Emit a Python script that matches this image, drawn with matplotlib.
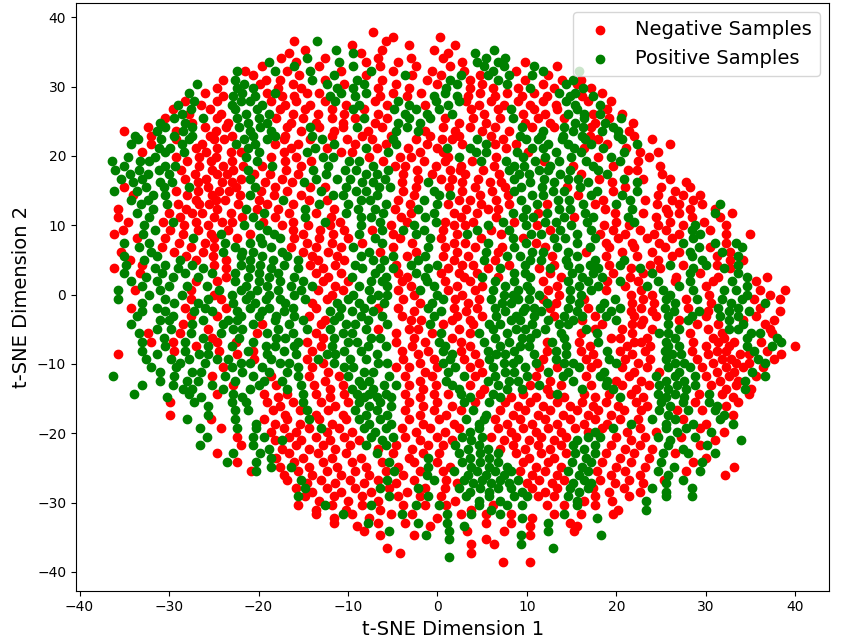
import matplotlib
matplotlib.use("Agg")
import matplotlib.pyplot as plt

# t-SNE coordinates, in thin horizontal rows:
# row_y[i] is the y value of row i, neg_x_rows[i] / pos_x_rows[i] the x values in that row.
row_y = [37.9, 37.2, 36.6, 36.0, 35.3, 34.8, 34.1, 33.5, 32.9, 32.2, 31.7, 31.0, 30.4, 29.8,
         29.1, 28.6, 27.9, 27.3, 26.7, 26.0, 25.5, 24.8, 24.2, 23.6, 22.9, 22.4, 21.7, 21.1,
         20.5, 19.8, 19.3, 18.6, 18.0, 17.4, 16.7, 16.2, 15.5, 14.9, 14.3, 13.6, 13.1, 12.4,
         11.8, 11.2, 10.5, 10.0, 9.3, 8.7, 8.1, 7.4, 6.9, 6.2, 5.6, 5.0, 4.3, 3.8, 3.1, 2.5,
         1.9, 1.2, 0.7, 0.0, -0.6, -1.2, -1.9, -2.4, -3.1, -3.7, -4.3, -5.0, -5.5, -6.2, -6.8,
         -7.4, -8.1, -8.6, -9.3, -9.9, -10.5, -11.2, -11.7, -12.4, -13.0, -13.6, -14.3, -14.8,
         -15.5, -16.1, -16.7, -17.4, -17.9, -18.6, -19.2, -19.8, -20.5, -21.0, -21.7, -22.3,
         -22.9, -23.6, -24.1, -24.8, -25.4, -26.0, -26.7, -27.2, -27.9, -28.5, -29.1, -29.8,
         -30.3, -31.0, -31.6, -32.2, -32.9, -33.4, -34.1, -34.7, -35.3, -36.0, -36.5, -37.2,
         -37.8, -38.6]

neg_x_rows = [
    [-7.2],
    [0.3, -5.0],
    [-5.8, -16.0],
    [-9.5, -3.2, 2.0],
    [-14.8, -6.2, -0.4],
    [-8.6, 1.2, -16.6],
    [-17.5, -12.6, -6.6, -3.0, 0.6],
    [-15.8, -8.0, -4.4, 2.8, 9.8],
    [-19.6, -13.2, -6.4, -2.4, 1.4, 13.4],
    [-21.5, -16.8, -10.8, -5.0, -0.6, 3.0, 8.8],
    [-20.6, -15.5, -8.0, -2.8, 0.4, 4.8, 12.4],
    [-24.0, -19.2, -17.6, -12.6, -6.2, -1.2, 3.6, 9.8, 13.9, 16.0],
    [-19.8, -16.2, -10.4, -4.6, 0.0, 5.0, 11.8, 15.6],
    [-24.6, -17.8, -15.2, -6.6, -3.2, 3.6, 6.2, 9.0, 13.0, 17.2],
    [-26.0, -19.0, -14.6, -13.2, -5.0, -1.8, 4.8, 7.8, 10.8, 18.4],
    [-24.0, -17.4, -16.0, -6.4, -3.4, 3.4, 6.4, 9.4, 12.2, 16.2],
    [-28.2, -24.6, -18.6, -15.8, -12.6, -7.0, 3.2, 6.0, 9.0, 11.8, 16.8, 19.4],
    [-26.4, -17.0, -14.2, -10.2, -5.6, -1.4, 4.6, 7.4, 10.4, 13.2],
    [-29.6, -25.4, -17.6, -14.8, -11.8, -8.2, 3.8, 6.8, 10.8, 13.4, 19.0],
    [-27.8, -24.2, -16.2, -13.4, -10.4, -6.6, 5.2, 9.6, 12.0, 17.4, 20.6],
    [-30.4, -24.6, -18.0, -15.0, -11.8, -9.2, -5.6, 0.8, 4.0, 7.0, 11.2, 14.2, 19.2],
    [-27.4, -23.4, -16.4, -13.6, -10.6, -7.0, 2.4, 5.4, 9.8, 12.6, 17.6, 21.9],
    [-32.4, -26.0, -23.6, -16.8, -13.2, -10.6, -6.2, 0.6, 3.6, 6.4, 10.6, 13.0, 17.2],
    [-35.0, -29.2, -24.8, -15.2, -11.6, -7.8, -1.4, 2.0, 5.0, 8.0, 21.4],
    [-32.0, -25.4, -23.0, -17.0, -11.8, -8.4, -5.2, -0.8, 2.4, 6.0, 17.0, 22.0],
    # 22.4
    [-29.2, -25.0, -23.9, -17.2, -14.3, -10.1, -7.3, -2.4, 0.5, 1.6, 7.3, 18.0, 24.0],
    [-32.0, -26.3, -18.2, -15.6, -9.2, -5.8, -1.2, 2.7, 6.4, 8.8, 19.0, 26.0],
    [-27.0, -24.6, -16.4, -12.4, -6.8, -3.3, -0.1, 7.7, 16.4, 21.1],
    [-33.0, -25.9, -23.1, -22.0, -17.1, -10.8, -9.6, -2.0, 0.6, 10.1, 22.6, 24.7],
    [-29.2, -26.6, -24.7, -18.6, -15.8, -7.6, -4.2, -3.0, 1.2, 6.6, 17.9, 23.6],
    [-28.0, -25.3, -23.0, -17.0, -14.1, -6.1, -1.5, 0.8, 3.9, 11.9, 22.4],
    [-26.6, -24.0, -21.7, -19.6, -15.2, -4.7, -3.6, -0.2, 2.6, 6.3, 15.1, 19.6, 24.9],
    [-28.7, -25.2, -22.9, -16.9, -2.3, 1.4, 2.5, 5.1, 21.3, 22.3],
    [-27.1, -24.6, -23.5, -20.5, -18.7, -15.6, -3.8, -0.6, 3.1, 6.9, 16.0, 25.1],
    [-28.2, -25.9, -22.0, -17.4, -2.2, 0.4, 1.6, 4.5, 18.1, 23.0, 26.0],
    [-26.8, -24.1, -23.0, -19.3, -16.3, -4.0, 2.8, 5.9, 7.1, 19.5, 27.8],
    [-35.0, -25.6, -22.5, -18.2, -14.2, -12.6, -2.4, 1.3, 4.2, 7.5, 14.5, 21.0, 25.0, 28.2],
    [-29.2, -26.8, -24.4, -23.3, -19.7, -16.8, -3.8, 2.8, 6.1, 19.6, 26.6],
    [-34.0, -28.0, -25.2, -22.1, -18.3, -15.2, -2.6, 4.8, 7.9, 15.7, 24.6, 27.4, 29.4],
    [-27.0, -24.8, -23.7, -20.0, -14.4, -12.4, -4.4, 2.4, 3.6, 6.6, 18.5, 23.2, 26.2, 28.6],
    [-29.0, -26.6, -25.5, -22.3, -19.1, -16.2, -3.1, 1.2, 4.9, 8.0, 12.2, 17.6, 24.5, 27.0, 29.6],
    [-35.7, -28.1, -24.6, -20.2, -17.8, -11.6, -4.7, 3.2, 5.6, 6.8, 18.7, 25.6, 28.2, 31.0],
    [-30.0, -27.4, -26.3, -23.1, -16.6, -13.6, -3.0, 1.8, 4.4, 11.2, 19.8, 23.0, 25.8, 27.0, 32.9],
    [-35.7, -28.8, -25.0, -21.8, -18.2, -11.9, -4.1, 2.6, 6.5, 15.3, 24.4, 28.4, 31.6],
    [-34.6, -30.7, -27.0, -24.1, -23.0, -19.5, -16.1, -10.9, -3.4, 0.9, 4.0, 8.6, 20.0, 26.0, 29.8],
    [-28.3, -25.6, -17.4, -14.5, -12.0, -5.2, 1.9, 3.1, 11.1, 18.6, 21.4, 24.6, 27.4, 32.2],
    [-35.2, -29.9, -26.8, -23.4, -16.2, -13.1, -10.5, -7.3, 0.6, 6.0, 12.6, 19.6, 22.6, 25.6, 30.5],
    [-36.1, -28.4, -25.3, -21.0, -15.0, -11.7, -5.0, 2.2, 7.1, 18.2, 21.0, 24.2, 27.0, 32.3, 34.9],
    [-33.6, -30.4, -25.0, -22.4, -16.0, -13.2, -10.0, -4.2, 0.4, 4.9, 9.6, 20.2, 23.4, 26.2],
    [-28.9, -26.0, -14.6, -11.8, -8.4, -2.8, 1.8, 3.1, 11.0, 18.8, 21.8, 24.8, 32.3],
    [-30.8, -27.6, -25.0, -16.4, -13.6, -10.8, -5.0, 0.8, 4.2, 7.2, 12.0, 19.2, 22.0, 25.4, 30.5],
    [-35.4, -29.4, -26.2, -15.0, -12.2, -6.4, -2.4, 2.2, 6.8, 16.6, 20.6, 24.0, 27.0, 32.7],
    [-28.1, -25.1, -14.0, -11.2, -3.4, 0.6, 3.4, 12.8, 18.8, 22.3, 26.2, 31.2],
    [-34.4, -27.0, -23.6, -13.4, -10.4, 1.8, 6.4, 24.6, 32.7, 34.2],
    [-33.0, -25.0, -14.2, -11.4, -4.6, 2.8, 4.0, 8.0, 13.0, 19.2, 23.8, 27.4, 31.2],
    [-36.1, -23.6, -12.8, 1.2, 5.6, 11.4, 21.6, 24.9, 32.7],
    [-33.2, -13.6, -10.8, -4.4, 0.4, 2.4, 4.4, 12.6, 19.6, 23.0, 29.4],
    [-23.6, -12.2, -3.4, 3.0, 6.8, 13.8, 21.5, 26.7, 31.4, 36.8],
    [-27.0, -24.6, -12.8, -10.0, -4.0, 0.8, 3.6, 11.8, 19.0, 22.4, 26.6, 30.8, 35.6],
    [-11.4, -3.0, 2.2, 5.0, 13.4, 21.0, 30.0],
    [-33.8, -27.6, -13.4, -10.6, -4.4, 1.2, 4.2, 12.4, 18.8, 22.8, 36.0, 38.8],
    [-25.0, -11.8, -2.6, 2.8, 13.6, 21.6, 24.0, 30.4, 37.2],
    [-27.6, -24.2, -12.4, -3.8, 2.0, 4.6, 11.8, 16.4, 23.0, 27.8, 35.4, 38.3],
    [-14.0, -2.0, 3.4, 13.2, 21.8, 24.2, 30.6],
    [-34.2, -28.2, -23.6, -13.6, -6.6, -4.4, 1.8, 4.4, 12.6, 16.8, 22.8, 28.0, 36.0],
    [-2.6, 3.2, 21.6, 24.0, 30.2, 38.3],
    [-27.6, -24.6, -14.4, -4.0, 2.2, 5.0, 13.0, 17.6, 22.0, 24.4, 30.0, 35.6],
    [-12.6, -3.0, -1.8, 1.6, 3.6, 16.2, 23.0, 27.0, 34.2, 37.6],
    [-28.4, -19.6, -13.0, 0.6, 4.0, 18.4, 21.8, 22.8, 29.0, 31.4, 36.6],
    [-25.6, -6.6, -3.2, -2.2, 2.4, 17.6, 20.6, 24.0, 30.2, 37.2],
    [-32.4, -28.8, -20.2, -13.6, -4.6, -0.6, 3.6, 16.0, 21.8, 28.2, 31.8, 37.4],
    [-25.2, -12.8, -2.6, 1.6, 19.4, 20.4, 23.4, 30.8, 32.0],
    [-32.0, -29.6, -24.6, -22.5, -14.6, -4.6, -1.4, 2.6, 12.2, 15.8, 22.0, 22.8, 28.6, 31.4, 33.2, 36.2],
    [-27.0, -13.0, -2.8, 3.6, 17.0, 21.2, 23.8, 30.0, 32.6, 40.0],
    [-29.4, -24.4, -20.6, -14.0, -4.0, -1.0, 2.6, 12.2, 16.0, 20.4, 23.2, 28.4, 31.2, 32.2, 36.8],
    [-35.7, -22.4, -2.2, 4.2, 17.4, 21.8, 30.2, 33.8, 34.8, 38.4],
    [-20.5, -14.6, -3.8, -0.4, 3.0, 11.8, 16.6, 21.0, 23.8, 29.0, 31.8, 32.8, 37.6],
    [-12.8, -2.0, 4.6, 17.8, 22.4, 30.8, 33.4, 34.8],
    [-24.0, -14.0, -4.6, -3.2, 0.0, 3.6, 11.4, 13.4, 17.2, 20.6, 23.4, 29.6, 32.2, 34.2, 36.4],
    [-12.2, -1.4, 5.0, 22.0, 24.8, 31.2, 33.2],
    [-25.2, -18.6, -14.4, -11.0, -3.6, -0.6, 4.2, 11.0, 16.6, 21.4, 30.0, 32.6, 35.6],
    [-12.6, -2.0, 12.6, 20.0, 22.8, 31.6, 33.6],
    [-22.8, -18.0, -13.8, -10.6, -3.2, -0.2, 3.6, 10.4, 13.8, 17.2, 20.6, 23.6, 30.6, 33.4],
    [-12.0, -1.6, 5.2, 12.2, 22.2, 32.2, 35.0],
    [-24.6, -19.4, -16.8, -13.6, -10.4, -3.6, -0.4, 1.2, 4.8, 9.6, 12.6, 16.4, 19.2, 21.6, 29.2, 31.8, 34.8],
    [-17.8, -12.0, -2.0, 8.2, 11.0, 14.2, 17.6, 23.0, 33.0],
    # -15.5
    [-29.9, -19.0, -16.2, -13.0, -10.0, -3.2, 0.0, 4.2, 7.6, 10.4, 13.4, 16.2, 18.8, 22.2, 28.8, 33.6],
    [-17.6, -11.4, -1.6, 1.6, 9.0, 11.8, 14.8, 17.4, 20.2, 23.4, 32.2],
    [-18.4, -15.4, -12.2, -3.6, -0.4, 2.6, 7.0, 9.8, 12.6, 15.6, 18.0, 20.8, 22.8, 26.8, 29.6],
    [-29.9, -17.0, -13.6, -10.6, -2.0, 1.0, 8.4, 11.2, 14.0, 16.8, 19.4, 33.0],
    [-25.3, -19.4, -16.8, -13.2, -10.2, -3.2, 0.2, 6.4, 9.2, 12.0, 14.8, 17.6, 20.4, 22.4, 27.4],
    [-18.2, -15.4, -11.8, -1.6, 1.8, 7.8, 10.6, 13.4, 16.4, 19.0, 30.0],
    [-24.2, -17.2, -14.4, -11.0, -4.0, -0.8, 2.4, 6.8, 9.6, 12.4, 15.4, 18.4, 22.6, 29.4],
    [-18.6, -15.8, -12.4, -9.6, -2.4, 0.8, 8.2, 11.0, 13.8, 16.8, 21.2, 24.4, 32.0],
    [-22.4, -16.6, -13.6, -10.4, -3.6, 0.0, 6.0, 8.8, 11.6, 14.4, 20.0, 23.2, 27.2],
    [-18.2, -15.2, -12.0, -8.8, -2.0, 1.6, 7.4, 10.2, 13.0, 21.6, 31.0],
    [-22.0, -15.8, -12.8, -9.8, -4.6, -1.0, 0.6, 8.4, 11.2, 13.8, 19.4, 22.6, 29.4],
    [-17.4, -14.4, -11.4, -6.6, -2.8, 7.0, 9.8, 12.6, 21.0, 24.0],
    [-24.6, -16.6, -13.4, -10.2, -5.0, -1.6, 0.2, 8.8, 11.6, 14.4, 18.8, 22.0, 26.6],
    [-18.0, -15.0, -11.8, -8.6, -3.2, 10.2, 13.0, 20.4, 23.6, 30.0],
    [-22.4, -16.0, -12.8, -9.6, -6.2, -2.6, 0.0, 9.6, 12.4, 18.4, 21.6, 28.6],
    [-17.6, -14.4, -11.2, -8.0, -4.4, 1.4, 11.0, 13.8, 20.0, 23.2, 33.1],
    [-20.8, -15.6, -12.4, -9.2, -5.8, -2.0, 0.6, 9.2, 12.0, 17.8, 21.0, 27.8],
    [-17.2, -14.0, -10.8, -7.6, -3.8, 10.6, 13.4, 19.4, 22.6, 32.1],
    [-16.8, -13.0, -9.8, -6.6, -2.6, 1.0, 11.4, 14.2, 18.2, 21.4, 25.3],
    [-14.6, -11.4, -8.2, -4.6, 2.2, 10.0, 12.8, 19.8, 23.0],
    [-15.8, -12.4, -9.2, -5.4, -1.4, 0.8, 10.6, 13.4, 17.4, 20.8],
    [-14.0, -10.8, -7.4, -3.4, 12.0, 19.2, 22.6],
    [-14.8, -11.6, -8.4, -4.4, -2.0, 0.4, 11.2, 13.0, 17.6, 21.4],
    [-13.2, -10.0, -6.6, 2.0, 16.4, 19.5],
    [-15.6, -11.8, -8.4, -3.8, -1.4, 1.0, 6.2, 12.2, 14.2, 17.6],
    [-13.6, -10.2, -6.4, 3.8, 20.2],
    [-13.6, -9.6, -5.2, -2.8, 2.6, 5.4, 8.2, 13.0, 16.0, 19.6],
    [-11.6, -7.6, 0.0, 10.6],
    [-11.6, -6.6, -3.6, 5.4, 8.2, 14.8],
    [-9.0, -0.8, 10.4, 15.6],
    [-8.2, 3.3, 7.4, 15.3],
    [-6.4, -2.6, 10.4],
    [5.4],
    [3.7, 6.3],
    [-5.6],
    [-4.2, 3.7],
    [],
    [7.3, 10.3],
]

pos_x_rows = [
    [],
    [],
    [-13.5],
    [],
    [-11.3, 6.3],
    [-9.4, 4.2],
    [-14.6, 5.4, 7.6],
    [-18.8, -11.0, 4.4, 6.8],
    [-16.0, -9.4, 5.2, 7.4, 10.8],
    [-22.4, -18.2, -14.2, -7.4, 6.2, 11.8, 15.8],
    [-11.6, -3.6, 2.6, 5.6, 8.0, 10.6],
    [-22.6, -14.0, -9.0, 1.4, 6.8, 15.2],
    [-26.9, -21.6, -12.4, -8.2, 2.2, 7.8, 14.4],
    [-22.4, -20.6, -11.2, -9.4, 1.0, 10.4, 16.3],
    [-27.8, -21.8, -18.2, -10.8, -8.0, 0.9, 13.6, 15.4],
    [-22.8, -20.4, -12.0, -9.2, -0.4, 2.2, 14.8, 17.4],
    [-27.2, -22.0, -20.9, -11.4, -4.4, -0.2, 2.4, 14.4],
    [-29.0, -23.0, -19.6, -8.8, -3.2, 1.2, 15.4, 18.2],
    [-27.6, -22.6, -20.2, -9.4, -4.8, -2.4, 0.2, 8.2, 15.6],
    [-28.6, -21.4, -18.8, -3.6, -1.2, 1.6, 14.6, 16.4, 18.2],
    [-29.4, -26.2, -22.4, -20.0, -8.2, -3.2, -0.8, 8.4, 16.4, 20.5],
    [-31.0, -28.2, -21.2, -19.0, -4.4, -2.0, 15.4, 18.7],
    [-30.4, -27.4, -22.2, -19.8, -14.2, -9.0, -3.4, 9.4, 14.2, 16.3, 19.6],
    [-31.4, -28.4, -21.0, -18.6, -4.6, -2.2, 11.8, 15.2, 18.4, 20.2],
    [-33.8, -29.4, -27.4, -20.6, -18.2, -14.0, 9.2, 11.6, 14.0, 16.2, 20.2],
    # 22.4
    [-33.5, -30.9, -27.8, -21.6, -19.0, -12.9, -5.0, 4.4, 9.9, 11.2, 13.9, 16.5, 20.6],
    [-34.2, -28.6, -22.5, -20.4, -11.6, -4.6, 5.4, 12.4, 14.6, 17.2, 22.3],
    [-31.1, -29.9, -21.2, -13.7, -8.0, 1.1, 3.6, 10.6, 11.8, 15.3, 18.5],
    [-30.4, -28.3, -19.9, -14.6, -5.5, 4.3, 5.4, 8.9, 13.3, 16.1, 20.9],
    [-34.6, -31.6, -21.4, -12.8, -11.7, 2.4, 9.6, 12.0, 14.9, 19.4],
    [-36.4, -33.3, -32.2, -20.2, -9.9, -8.8, 4.9, 7.7, 10.9, 13.6, 16.6, 20.4],
    [-35.0, -30.5, -29.3, -18.5, -12.2, -7.2, 8.6, 9.7, 12.6, 17.4],
    [-36.0, -33.4, -31.1, -21.2, -13.9, -10.3, -9.1, -5.5, 8.0, 11.3, 12.4, 14.8, 18.0],
    [-34.4, -32.3, -30.0, -12.5, -8.0, -6.8, 9.1, 10.2, 13.7, 19.0],
    [-35.4, -33.0, -21.0, -13.6, -11.2, -9.8, -5.9, 8.6, 11.9, 14.6, 15.7, 20.9],
    [-34.0, -31.0, -29.7, -14.9, -8.4, -7.2, -1.0, 10.3, 13.0, 16.8, 22.3],
    [-32.6, -30.6, -27.8, -20.4, -10.2, -6.5, -5.3, 9.3, 11.7, 15.9],
    [-36.1, -33.6, -13.0, -9.1, -8.0, -0.4, 8.6, 12.9, 14.2, 17.8, 22.3],
    [-31.8, -30.4, -21.0, -11.7, -10.6, -6.8, 0.2, 1.4, 10.6, 11.8, 17.2, 20.6],
    [-34.3, -32.4, -17.3, -8.6, -7.5, -1.5, 9.3, 13.5, 14.7, 21.5],
    [-33.1, -30.2, -13.2, -10.0, -5.8, 0.0, 11.1, 16.3, 20.0, 31.6],
    [-31.8, -21.4, -14.8, -8.9, -7.0, -2.2, 9.9, 13.6, 14.8, 21.8],
    [-33.6, -19.4, -10.2, -6.1, -0.4, 8.4, 12.3, 16.5, 31.0],
    [-32.2, -20.6, -14.8, -8.6, -7.4, -1.4, 9.6, 10.7, 14.1, 17.4, 21.3],
    [-29.6, -12.6, -6.4, -0.2, 7.3, 12.0, 13.2, 16.7, 22.0],
    [-32.8, -21.6, -20.0, -8.6, -2.6, 5.6, 9.9, 14.9, 28.8],
    [-31.6, -19.0, -6.2, -3.9, -1.5, 4.4, 8.0, 13.7, 17.2, 28.4],
    [-32.9, -24.2, -18.3, -8.8, -2.4, 3.3, 10.5, 11.6, 15.6, 29.4],
    [-27.3, -19.8, -17.6, -7.0, -0.8, 8.4, 13.0, 14.3, 17.6, 28.6],
    [-35.0, -32.2, -23.7, -21.0, -19.6, -6.2, 5.6, 9.9, 15.6, 27.4, 31.0, 33.4],
    [-33.4, -22.6, -18.6, -9.4, -1.0, 8.6, 13.4, 17.0, 29.2, 34.0],
    [-32.0, -24.0, -21.8, -20.6, -17.4, -7.6, 5.4, 10.6, 11.8, 14.6, 28.2, 31.8],
    [-35.0, -31.4, -22.0, -19.6, -16.8, -8.6, -5.0, -1.4, 7.8, 9.2, 15.6, 28.4, 33.6],
    [-32.8, -28.8, -21.0, -18.4, -15.6, -7.2, -6.0, -2.2, 5.2, 10.4, 11.6, 14.4, 17.6, 20.8, 29.6],
    [-34.8, -30.4, -27.4, -22.0, -19.8, -17.2, -9.2, -3.0, 0.0, 9.8, 14.6, 17.0, 20.4, 26.0, 30.0, 33.6],
    [-31.6, -29.0, -26.2, -21.0, -18.6, -15.6, -8.4, -6.4, -5.0, -1.0, 7.0, 12.6, 15.8, 18.0, 22.6, 28.6, 32.0],
    [-35.0, -30.8, -28.2, -25.2, -22.6, -20.0, -17.8, -7.0, -2.4, 8.6, 9.8, 15.0, 17.4, 24.0, 28.2, 33.6],
    [-32.6, -29.6, -26.8, -21.2, -18.8, -16.0, -9.6, -5.8, -1.4, 5.0, 10.4, 16.2, 18.4, 34.6],
    [-34.3, -31.4, -22.6, -20.0, -17.6, -15.0, -7.4, -6.2, -1.2, 6.4, 8.6, 14.6, 16.8, 20.4, 24.6, 28.2, 32.9],
    [-33.0, -30.0, -28.0, -25.8, -21.4, -19.0, -16.4, -14.0, -8.8, -5.6, -0.4, 7.6, 10.0, 15.8, 18.0, 23.4, 27.0, 34.6],
    [-35.7, -31.0, -24.4, -22.0, -20.2, -17.8, -15.2, -7.6, -2.0, 6.2, 9.0, 10.4, 14.8, 17.2, 25.2, 28.6, 32.0, 33.4],
    [-32.2, -28.6, -23.0, -21.0, -18.8, -16.0, -9.4, -6.6, -5.6, 0.0, 7.4, 8.4, 11.4, 16.0, 26.0, 34.6],
    [-35.7, -30.4, -25.6, -21.4, -19.2, -17.6, -14.8, -10.0, -7.4, 0.6, 6.0, 9.0, 10.2, 14.8, 19.8, 25.6, 29.0, 31.8, 34.0],
    [-33.0, -29.4, -26.8, -22.8, -20.4, -17.0, -11.2, -8.8, -6.0, -0.6, 7.2, 8.2, 12.2, 15.8, 18.6, 26.6, 32.8, 36.6],
    [-31.4, -26.0, -21.0, -18.8, -16.2, -10.8, -8.2, -1.0, 6.4, 9.8, 10.8, 14.6, 18.2, 20.4, 25.4, 31.4, 33.6],
    [-33.0, -30.4, -27.2, -25.2, -22.4, -19.6, -17.2, -12.0, -9.6, -7.2, 0.4, 7.6, 9.6, 11.6, 15.6, 19.4, 26.4, 29.2, 32.6, 34.8],
    [-33.6, -29.6, -22.0, -20.0, -18.0, -16.0, -11.0, -8.6, -6.2, -0.4, 6.6, 8.8, 10.8, 14.2, 16.2, 18.8, 25.8, 28.4, 31.6, 33.6],
    [-31.0, -30.0, -26.2, -23.4, -22.4, -18.2, -15.0, -11.6, -7.8, 8.2, 9.2, 12.4, 15.2, 20.0, 28.0, 32.6],
    [-34.2, -27.4, -24.0, -20.6, -16.6, -10.2, -9.2, -5.6, -0.8, 5.8, 7.0, 10.6, 13.6, 14.6, 25.8, 34.2],
    [-31.4, -29.8, -22.8, -21.8, -17.8, -14.6, -12.0, -8.0, 6.2, 8.8, 9.8, 12.0, 16.6, 27.0, 32.6, 33.6],
    [-33.4, -27.6, -24.2, -19.0, -16.2, -10.6, -9.6, 0.4, 4.6, 7.8, 11.0, 13.8, 17.8, 24.8, 25.8, 35.0, 36.0],
    [-30.6, -26.2, -22.2, -18.0, -17.0, -11.6, -7.4, -6.4, 6.4, 9.4, 10.4, 14.2, 26.6, 34.6, 38.0],
    [-33.0, -28.2, -20.6, -15.6, -10.0, -9.0, 0.2, 5.2, 8.0, 12.8, 18.0, 25.6, 38.4],
    [-30.4, -25.6, -23.0, -19.2, -18.2, -16.0, -11.8, -7.8, -5.8, 0.8, 7.0, 9.2, 10.2, 14.4, 25.8, 27.0, 34.6, 37.4],
    [-33.0, -28.2, -21.2, -17.2, -10.4, -8.6, 0.6, 5.6, 8.6, 13.2, 19.0, 25.4, 35.4],
    [-31.4, -26.6, -25.6, -19.0, -15.8, -12.4, -11.4, -6.8, 1.6, 6.6, 7.6, 10.8, 14.4, 26.2, 27.2],
    [-32.6, -29.8, -27.8, -24.6, -23.4, -18.6, -13.4, -9.8, -8.0, 1.4, 5.8, 9.0, 13.2, 19.2, 25.6, 35.8],
    [-28.8, -26.0, -22.0, -21.0, -17.6, -16.6, -11.6, -6.6, -5.6, 0.6, 7.4, 8.4, 11.0, 14.2, 15.2, 20.0, 26.6, 27.6, 36.6],
    [-32.0, -29.2, -23.0, -19.6, -15.6, -10.4, -9.4, 2.0, 6.2, 9.8, 15.8, 25.8, 28.2],
    [-31.0, -27.4, -26.4, -21.8, -18.8, -16.8, -8.2, -7.2, 1.2, 7.6, 8.6, 12.4, 14.6, 18.6, 27.0, 35.2],
    [-36.3, -29.4, -23.8, -20.6, -15.6, -10.0, -5.4, 3.0, 6.4, 10.0, 14.0, 18.2, 24.4, 26.6, 28.8, 36.6],
    [-31.0, -28.0, -26.8, -22.6, -19.4, -17.4, -8.8, -7.6, 1.0, 5.6, 8.0, 9.0, 15.2, 19.0, 25.6, 27.6, 34.4],
    [-33.0, -29.6, -25.2, -20.0, -15.2, -8.4, -6.0, -4.6, 1.6, 6.8, 11.4, 18.8, 24.8, 26.8, 28.8],
    [-28.4, -27.4, -24.0, -21.0, -16.8, -9.6, -7.2, 2.4, 7.8, 9.4, 16.2, 19.6, 25.8, 27.8, 34.4],
    [-33.9, -27.8, -22.8, -15.0, -9.0, -7.6, -5.8, 2.6, 6.2, 13.4, 24.6, 26.6, 30.4],
    [-30.2, -26.4, -21.8, -8.2, -6.8, -5.2, 3.6, 7.0, 20.4, 25.6, 27.6],
    # -15.5
    [-27.2, -23.0, -21.4, -15.0, -8.8, -6.4, 3.0, 5.8, 25.0, 27.4, 30.4],
    [-25.6, -7.6, -5.2, 26.0, 31.2],
    [-22.6, -21.2, -14.6, -9.2, -6.8, 4.0, 24.8, 28.0, 31.0],
    [-25.6, -8.0, -5.6, 5.4, 25.8, 32.0],
    [-28.0, -22.6, -14.4, -8.8, -6.4, 3.2, 5.2, 24.0, 26.6, 31.6],
    [-20.3, -7.6, -5.2, 4.6, 21.6, 25.6, 28.6, 33.0],
    [-26.5, -22.4, -20.3, -13.0, -8.2, -5.8, 4.6, 19.6, 25.6, 27.8],
    [-7.0, 3.6, 17.6, 26.8, 30.6],
    [-25.8, -20.6, -19.4, -7.4, -5.0, 2.8, 5.0, 16.8, 18.2, 24.6, 28.8],
    [-17.4, -6.2, 3.8, 15.6, 26.0, 33.9],
    [-26.5, -20.6, -8.0, -5.8, 2.0, 4.6, 15.2, 17.6, 25.8, 30.1],
    [-18.8, 3.4, 5.6, 16.4, 27.4],
    [-22.8, -19.8, -6.8, 2.4, 4.8, 6.8, 15.4, 17.6, 25.2, 28.0, 31.0],
    [-18.6, -1.0, 3.6, 5.8, 16.6],
    [-23.5, -20.3, -5.4, 2.8, 4.8, 6.8, 15.0, 17.2, 25.0, 29.6],
    [-18.6, -16.4, -1.0, 3.8, 5.8, 7.8, 16.2, 26.4],
    [-20.3, -4.8, 1.8, 4.4, 6.4, 8.2, 14.6, 16.8, 24.6, 29.4],
    [-1.2, 3.4, 5.4, 7.4, 15.8, 25.8],
    [-15.2, -5.6, -0.4, 3.0, 5.0, 7.0, 9.0, 16.4, 27.4],
    [4.0, 6.0, 8.0, 15.2, 17.2, 25.6],
    [-14.8, -6.4, -2.2, 2.4, 4.8, 6.8, 8.2, 14.8, 16.8, 24.0, 28.4],
    [3.6, 5.8, 9.4, 15.8, 25.6],
    [-15.6, -5.4, -1.0, 3.2, 5.8, 8.6, 10.0, 14.6, 25.6, 28.4],
    [4.6, 7.0, 15.6, 23.3],
    [-12.6, -7.4, -2.4, 0.2, 4.6, 7.8, 9.4, 15.6],
    [6.0, 23.3],
    [-10.6, -4.0, 1.1, 3.8, 7.0, 14.2],
    [9.4, 17.8],
    [-7.8, -2.2, 1.1, 12.4],
    [3.0],
    [-5.4, 1.3, 12.4],
    [-1.3, 9.3, 18.3],
    [1.3],
    [9.3],
    [12.9],
    [],
    [1.3],
    [],
]

neg_x = [x for xs in neg_x_rows for x in xs]
neg_y = [y for y, xs in zip(row_y, neg_x_rows) for _ in xs]
pos_x = [x for xs in pos_x_rows for x in xs]
pos_y = [y for y, xs in zip(row_y, pos_x_rows) for _ in xs]

fig = plt.figure(figsize=(8.44, 6.44), dpi=100)
ax = fig.add_axes([76 / 844, 53.3 / 644, 753.3 / 844, 588 / 644])
ax.scatter(neg_x, neg_y, c="red", s=36, label="Negative Samples")
ax.scatter(pos_x, pos_y, c="green", s=36, label="Positive Samples")
ax.set_xlim(-40.4, 43.8)
ax.set_ylim(-42.7, 42.1)
ax.set_xticks([-40, -30, -20, -10, 0, 10, 20, 30, 40])
ax.set_yticks([-40, -30, -20, -10, 0, 10, 20, 30, 40])
ax.set_xlabel("t-SNE Dimension 1", fontsize=14)
ax.set_ylabel("t-SNE Dimension 2", fontsize=14)
ax.legend(loc="upper right", fontsize=14)
fig.savefig("out.png", dpi=100)
